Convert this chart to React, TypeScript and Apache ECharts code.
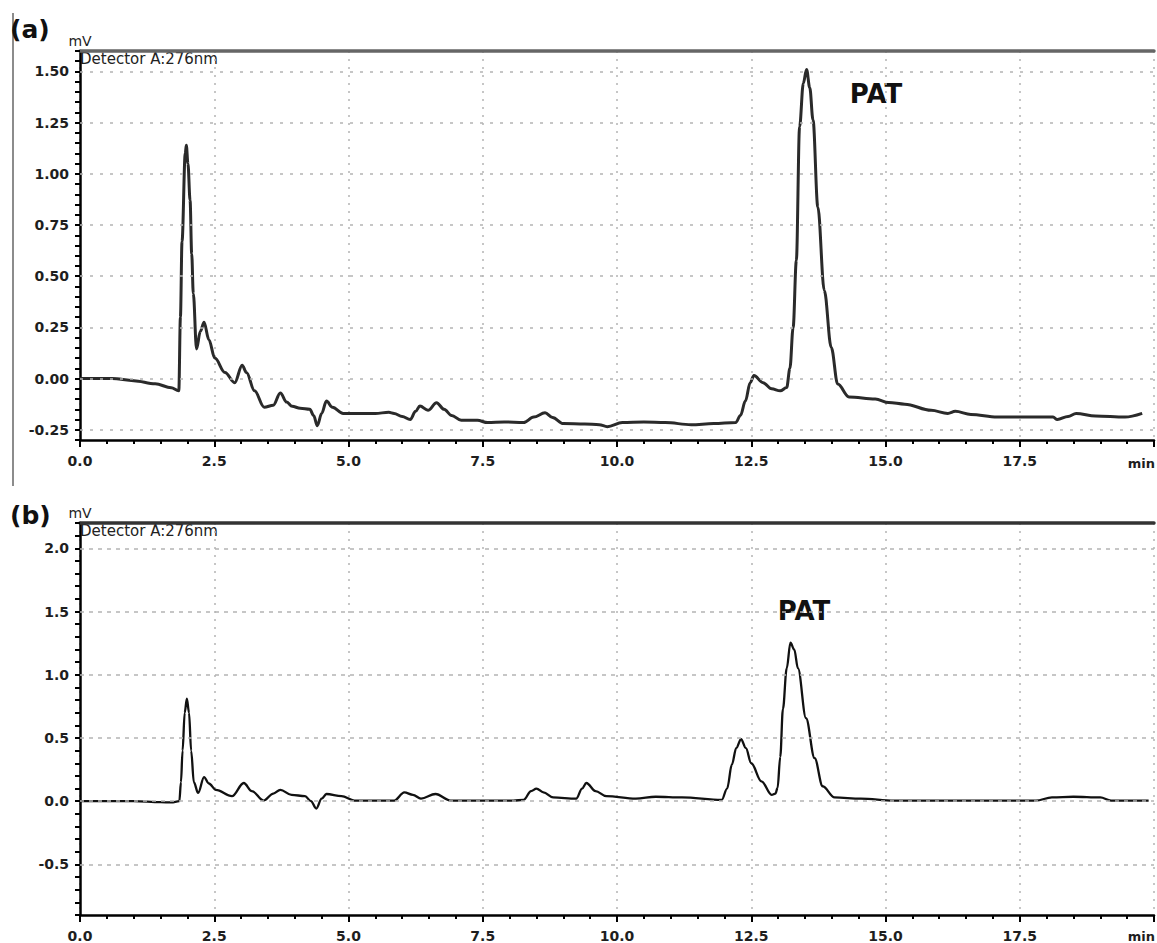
import React, { useEffect, useRef } from "react";
import * as echarts from "echarts";

// ---------- data ----------
const timeA = [
  0.0, 0.6, 1.0, 1.4, 1.7, 1.84, 1.87, 1.9, 1.96, 1.98, 2.01, 2.05, 2.08, 2.11, 2.17, 2.24, 2.31, 2.4, 2.51, 2.7,
  2.88, 3.02, 3.1, 3.25, 3.43, 3.6, 3.73, 3.85, 3.95, 4.1, 4.28, 4.35, 4.42, 4.5, 4.59, 4.7, 4.9, 5.2, 5.5, 5.75,
  5.85, 6.0, 6.15, 6.25, 6.33, 6.48, 6.64, 6.78, 6.92, 7.1, 7.4, 7.59, 7.9, 8.26, 8.45, 8.66, 8.8, 9.0, 9.4, 9.67,
  9.82, 10.1, 10.5, 10.9, 11.38, 11.8, 12.21, 12.3, 12.39, 12.48, 12.55, 12.72, 12.88, 13.04, 13.16, 13.22, 13.28,
  13.34, 13.4, 13.47, 13.53, 13.59, 13.65, 13.74, 13.86, 13.99, 14.11, 14.32, 14.81, 15.06, 15.36, 15.85, 16.16,
  16.3, 16.59, 17.08, 17.6, 18.12, 18.2, 18.4, 18.55, 18.91, 19.46, 19.78,
];
const signalA = [
  0.0, 0.0, -0.01, -0.025, -0.045, -0.06, 0.3, 0.67, 1.1, 1.14, 1.05, 0.87, 0.61, 0.415, 0.145, 0.23, 0.275, 0.19,
  0.1, 0.03, -0.02, 0.065, 0.03, -0.06, -0.14, -0.13, -0.07, -0.115, -0.135, -0.145, -0.15, -0.18, -0.23, -0.17,
  -0.11, -0.14, -0.17, -0.17, -0.17, -0.165, -0.17, -0.185, -0.2, -0.16, -0.134, -0.155, -0.118, -0.15, -0.18,
  -0.204, -0.204, -0.215, -0.212, -0.215, -0.188, -0.167, -0.19, -0.22, -0.222, -0.225, -0.235, -0.215, -0.212,
  -0.215, -0.225, -0.22, -0.215, -0.18, -0.11, -0.02, 0.015, -0.02, -0.05, -0.06, -0.044, 0.05, 0.25, 0.577, 1.23,
  1.443, 1.51, 1.42, 1.263, 0.838, 0.43, 0.152, -0.027, -0.09, -0.1, -0.117, -0.125, -0.155, -0.17, -0.16, -0.175,
  -0.188, -0.188, -0.188, -0.2, -0.185, -0.17, -0.183, -0.188, -0.17,
];

const timeB = [
  0.0, 1.0, 1.5, 1.7, 1.85, 1.88, 1.91, 1.95, 1.99, 2.03, 2.07, 2.12, 2.2, 2.31, 2.4, 2.53, 2.83, 3.05, 3.2, 3.42,
  3.6, 3.73, 3.94, 4.19, 4.3, 4.4, 4.5, 4.59, 4.87, 5.11, 5.85, 6.04, 6.2, 6.35, 6.62, 6.9, 7.5, 8.07, 8.26, 8.4,
  8.5, 8.63, 8.81, 9.24, 9.35, 9.43, 9.6, 9.8, 10.35, 10.72, 11.21, 11.95, 12.05, 12.14, 12.22, 12.31, 12.4, 12.5,
  12.69, 12.88, 12.95, 12.99, 13.04, 13.09, 13.16, 13.23, 13.3, 13.37, 13.52, 13.68, 13.83, 14.05, 14.54, 15.16,
  17.0, 17.8, 18.1, 18.5, 19.0, 19.2, 19.9,
];
const signalB = [
  0.0, 0.0, -0.008, -0.01, 0.0, 0.15, 0.4, 0.7, 0.81, 0.7, 0.4, 0.15, 0.065, 0.19, 0.14, 0.09, 0.04, 0.144, 0.08,
  0.005, 0.06, 0.09, 0.05, 0.04, 0.0, -0.058, 0.02, 0.057, 0.04, 0.005, 0.005, 0.07, 0.05, 0.02, 0.057, 0.005,
  0.005, 0.005, 0.01, 0.08, 0.1, 0.07, 0.03, 0.02, 0.1, 0.144, 0.08, 0.04, 0.02, 0.035, 0.03, 0.01, 0.1, 0.29, 0.42,
  0.49, 0.42, 0.3, 0.157, 0.05, 0.06, 0.105, 0.35, 0.73, 1.05, 1.254, 1.2, 1.05, 0.656, 0.34, 0.118, 0.03, 0.02,
  0.005, 0.005, 0.005, 0.03, 0.035, 0.03, 0.005, 0.005,
];

const gridLinesA = [1.5, 1.25, 1.0, 0.75, 0.5, 0.25, 0.0, -0.25];
const gridLinesB = [2.0, 1.5, 1.0, 0.5, 0.0, -0.5];
const peakLabel = "PAT";
const detectorLabel = "Detector A:276nm";
const unitY = "mV";
const unitX = "min";

const FONT = "DejaVu Sans";
const LABEL_COLOR = "#1e1e1e";

function isMultiple(v: number, step: number) {
  const r = v / step;
  return Math.abs(r - Math.round(r)) < 1e-6;
}

function xAxisFor(gridIndex: number) {
  return [
    {
      type: "value",
      gridIndex,
      min: 0,
      max: 20,
      interval: 2.5,
      axisLine: { show: true, onZero: false, lineStyle: { color: "#000", width: 2.5 } },
      axisTick: { show: true, length: 7, lineStyle: { color: "#000", width: 2 } },
      minorTick: { show: true, splitNumber: 5, length: 4, lineStyle: { color: "#000", width: 2 } },
      axisLabel: {
        margin: 14,
        fontFamily: FONT,
        fontWeight: "bold",
        fontSize: 14,
        color: LABEL_COLOR,
        formatter: (v: number) => (v < 19.99 && isMultiple(v, 2.5) ? v.toFixed(1) : ""),
      },
      splitLine: { show: true, lineStyle: { color: "#b4b4b4", width: 1.5, type: [2, 6] } },
    },
    {
      type: "value",
      gridIndex,
      position: "top",
      min: 0,
      max: 20,
      axisLine: { show: true, onZero: false, lineStyle: { color: gridIndex === 0 ? "#666" : "#333", width: 3.5 } },
      axisTick: { show: false },
      axisLabel: { show: false },
      splitLine: { show: false },
    },
  ];
}

export default function App() {
  const ref = useRef<HTMLDivElement>(null);

  useEffect(() => {
    if (!ref.current) return;
    const chart = echarts.init(ref.current, undefined, { renderer: "svg" });

    const dataA = timeA.map((t, i) => [t, signalA[i]]);
    const dataB = timeB.map((t, i) => [t, signalB[i]]);

    const markLineBase = {
      silent: true,
      symbol: ["none", "none"],
      label: { show: false },
      emphasis: { disabled: true },
      animation: false,
    };

    const yAxisCommon = (gridIndex: number, min: number, max: number, interval: number, step: number, digits: number) => ({
      type: "value",
      gridIndex,
      min,
      max,
      interval,
      name: unitY,
      nameLocation: "end",
      nameGap: 3,
      nameTextStyle: { fontFamily: FONT, fontSize: 14, color: LABEL_COLOR, align: "center" },
      axisLine: { show: true, onZero: false, lineStyle: { color: "#000", width: 2.5 } },
      axisTick: { show: true, length: 5, lineStyle: { color: "#000", width: 2 } },
      axisLabel: {
        margin: 11,
        fontFamily: FONT,
        fontWeight: "bold",
        fontSize: 14,
        color: LABEL_COLOR,
        formatter: (v: number) => (isMultiple(v, step) ? v.toFixed(digits) : ""),
      },
      splitLine: { show: false },
    });

    chart.setOption({
      animation: false,
      backgroundColor: "#fff",
      grid: [
        { left: 80, top: 51, width: 1089, height: 389 },
        { left: 80, top: 523, width: 1082, height: 393 },
      ],
      xAxis: [...xAxisFor(0), ...xAxisFor(1)].map((a, i) => ({ ...a, gridIndex: i < 2 ? 0 : 1 })),
      yAxis: [
        yAxisCommon(0, -0.3, 1.6, 0.05, 0.25, 2),
        yAxisCommon(1, -0.9, 2.2, 0.1, 0.5, 1),
      ],
      series: [
        {
          type: "line",
          xAxisIndex: 0,
          yAxisIndex: 0,
          data: dataA,
          showSymbol: false,
          smooth: 0.35,
          smoothMonotone: "x",
          lineStyle: { color: "#2a2a2a", width: 3 },
          markLine: {
            ...markLineBase,
            lineStyle: { color: "#b4b4b4", width: 1.5, type: [3, 7] },
            data: gridLinesA.map((v) => ({ yAxis: v })),
          },
          z: 3,
        },
        {
          type: "line",
          xAxisIndex: 2,
          yAxisIndex: 1,
          data: dataB,
          showSymbol: false,
          smooth: 0.35,
          smoothMonotone: "x",
          lineStyle: { color: "#111", width: 2.3 },
          markLine: {
            ...markLineBase,
            lineStyle: { color: "#b4b4b4", width: 1.5, type: [4, 5] },
            data: gridLinesB.map((v) => ({ yAxis: v })),
          },
          z: 3,
        },
      ],
      graphic: [
        { type: "line", shape: { x1: 13, y1: 13, x2: 13, y2: 486 }, style: { stroke: "#666", lineWidth: 1.5 } },
        { type: "text", x: 10, y: 29, style: { text: "(a)", font: `bold 25px '${FONT}'`, fill: "#111", verticalAlign: "middle" } },
        { type: "text", x: 10, y: 515, style: { text: "(b)", font: `bold 25px '${FONT}'`, fill: "#111", verticalAlign: "middle" } },
        { type: "text", x: 80, y: 59, style: { text: detectorLabel, font: `15px '${FONT}'`, fill: "#222", verticalAlign: "middle" } },
        { type: "text", x: 80, y: 531, style: { text: detectorLabel, font: `15px '${FONT}'`, fill: "#222", verticalAlign: "middle" } },
        { type: "text", x: 876, y: 94, style: { text: peakLabel, font: `bold 26px '${FONT}'`, fill: "#111", align: "center", verticalAlign: "middle" } },
        { type: "text", x: 804, y: 611, style: { text: peakLabel, font: `bold 26px '${FONT}'`, fill: "#111", align: "center", verticalAlign: "middle" } },
        { type: "text", x: 1155, y: 463, style: { text: unitX, font: `bold 13px '${FONT}'`, fill: LABEL_COLOR, align: "right", verticalAlign: "middle" } },
        { type: "text", x: 1155, y: 936, style: { text: unitX, font: `bold 13px '${FONT}'`, fill: LABEL_COLOR, align: "right", verticalAlign: "middle" } },
      ],
    });

    return () => chart.dispose();
  }, []);

  return (
    <div
      ref={ref}
      style={{ position: "absolute", left: 0, top: 0, width: 1157, height: 943, overflow: "hidden", background: "#fff" }}
    />
  );
}
